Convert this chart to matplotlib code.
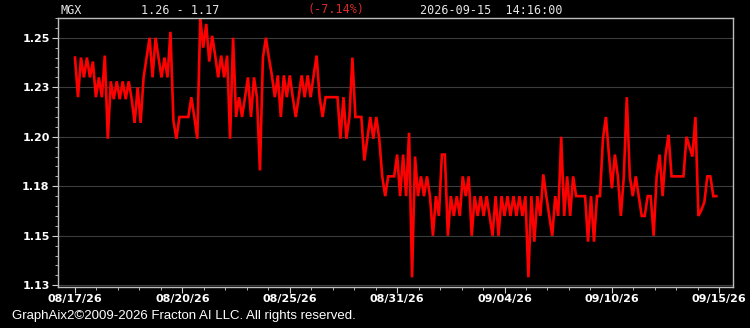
import matplotlib
matplotlib.use("Agg")
import matplotlib.pyplot as plt
from matplotlib.ticker import FixedLocator, AutoMinorLocator

# ---- data (sample index -> price) ----
prices = [
    1.245, 1.225, 1.245, 1.235, 1.245, 1.235, 1.243, 1.225, 1.235, 1.225,
    1.246, 1.204, 1.233, 1.224, 1.233, 1.224, 1.233, 1.224, 1.233, 1.224,
    1.212, 1.230, 1.212, 1.235, 1.245, 1.255, 1.235, 1.255, 1.245, 1.235,
    1.245, 1.235, 1.258, 1.213, 1.204, 1.215, 1.215, 1.215, 1.215, 1.225,
    1.215, 1.204, 1.265, 1.250, 1.262, 1.243, 1.256, 1.246, 1.235, 1.246,
    1.235, 1.246, 1.204, 1.255, 1.215, 1.225, 1.215, 1.225, 1.235, 1.215,
    1.235, 1.225, 1.188, 1.245, 1.255, 1.245, 1.236, 1.225, 1.236, 1.215,
    1.236, 1.225, 1.236, 1.225, 1.215, 1.225, 1.236, 1.225, 1.236, 1.225,
    1.236, 1.246, 1.225, 1.215, 1.225, 1.225, 1.225, 1.225, 1.225, 1.204,
    1.225, 1.204, 1.215, 1.245, 1.215, 1.215, 1.215, 1.193, 1.204, 1.215,
    1.204, 1.215, 1.204, 1.185, 1.175, 1.185, 1.185, 1.185, 1.196, 1.175,
    1.196, 1.175, 1.207, 1.134, 1.195, 1.175, 1.185, 1.175, 1.185, 1.175,
    1.155, 1.175, 1.165, 1.196, 1.196, 1.155, 1.175, 1.165, 1.175, 1.165,
    1.185, 1.175, 1.185, 1.155, 1.175, 1.165, 1.175, 1.165, 1.175, 1.165,
    1.155, 1.175, 1.155, 1.175, 1.165, 1.175, 1.165, 1.175, 1.165, 1.175,
    1.165, 1.175, 1.134, 1.175, 1.152, 1.175, 1.165, 1.186, 1.175, 1.165,
    1.155, 1.175, 1.165, 1.205, 1.165, 1.185, 1.165, 1.185, 1.175, 1.175,
    1.175, 1.175, 1.152, 1.175, 1.152, 1.175, 1.175, 1.204, 1.215, 1.196,
    1.179, 1.196, 1.185, 1.165, 1.185, 1.225, 1.185, 1.175, 1.185, 1.175,
    1.165, 1.165, 1.175, 1.175, 1.155, 1.185, 1.196, 1.175, 1.196, 1.206,
    1.185, 1.185, 1.185, 1.185, 1.185, 1.205, 1.200, 1.195, 1.215, 1.165,
    1.168, 1.172, 1.185, 1.185, 1.175, 1.175,
]
x_tick_labels = ["08/17/26", "08/20/26", "08/25/26", "08/31/26",
                 "09/04/26", "09/10/26", "09/15/26"]
x_tick_index = [0, 36, 72, 108, 144, 180, 216]
y_tick_values = [1.13, 1.155, 1.18, 1.205, 1.23, 1.255]
y_tick_labels = ["1.13", "1.15", "1.18", "1.20", "1.23", "1.25"]

symbol = "MGX"
range_text = "1.26 - 1.17"
change_text = "(-7.14%)"
stamp_text = "2026-09-15  14:16:00"
footer = "GraphAix2\u00a92009-2026 Fracton AI LLC. All rights reserved."

W, H = 750, 328
fig = plt.figure(figsize=(W / 100, H / 100), dpi=100, facecolor="black")
ax = fig.add_axes([58 / W, 1 - 287 / H, (733 - 58) / W, (287 - 18) / H])
ax.set_facecolor("black")

xs = list(range(len(prices)))
ax.plot(xs, prices, color="#ff0000", lw=1.9, solid_joinstyle="miter")

ax.set_xlim(-5.7, 220.6)
ax.set_ylim(1.1291, 1.2650)

ax.yaxis.set_major_locator(FixedLocator(y_tick_values))
ax.set_yticklabels(y_tick_labels)
ax.xaxis.set_major_locator(FixedLocator(x_tick_index))
ax.set_xticklabels(x_tick_labels)
ax.yaxis.set_minor_locator(AutoMinorLocator(5))
ax.xaxis.set_minor_locator(AutoMinorLocator(5))

ax.grid(axis="y", which="major", color="#3c3c3c", lw=0.8)
for s in ax.spines.values():
    s.set_color("#bdbdbd")
    s.set_linewidth(1.0)

ax.tick_params(axis="both", which="major", colors="#d0d0d0", length=4,
               width=0.8, labelcolor="white", labelsize=8)
ax.tick_params(axis="both", which="minor", colors="#d0d0d0", length=2, width=0.6)
ax.tick_params(axis="y", pad=2)
ax.tick_params(axis="x", pad=1)
for lbl in ax.get_xticklabels() + ax.get_yticklabels():
    lbl.set_fontweight("bold")

mono = "DejaVu Sans Mono"
hy = 1 - 10 / H
fig.text(61 / W, hy, symbol, color="#e6e6e6", fontsize=8.5,
         family=mono, va="center", ha="left")
fig.text(141 / W, hy, range_text, color="#e6e6e6", fontsize=8.5,
         family=mono, va="center", ha="left")
fig.text(308 / W, hy, change_text, color="#d82a2a", fontsize=8.5,
         family=mono, va="center", ha="left")
fig.text(420 / W, hy, stamp_text, color="#e6e6e6", fontsize=8.5,
         family=mono, va="center", ha="left")
fig.text(12 / W, 1 - 316 / H, footer, color="white", fontsize=9.5,
         family=["Liberation Sans", "DejaVu Sans"],
         va="center", ha="left")

fig.savefig("out.png", dpi=100, facecolor="black")
